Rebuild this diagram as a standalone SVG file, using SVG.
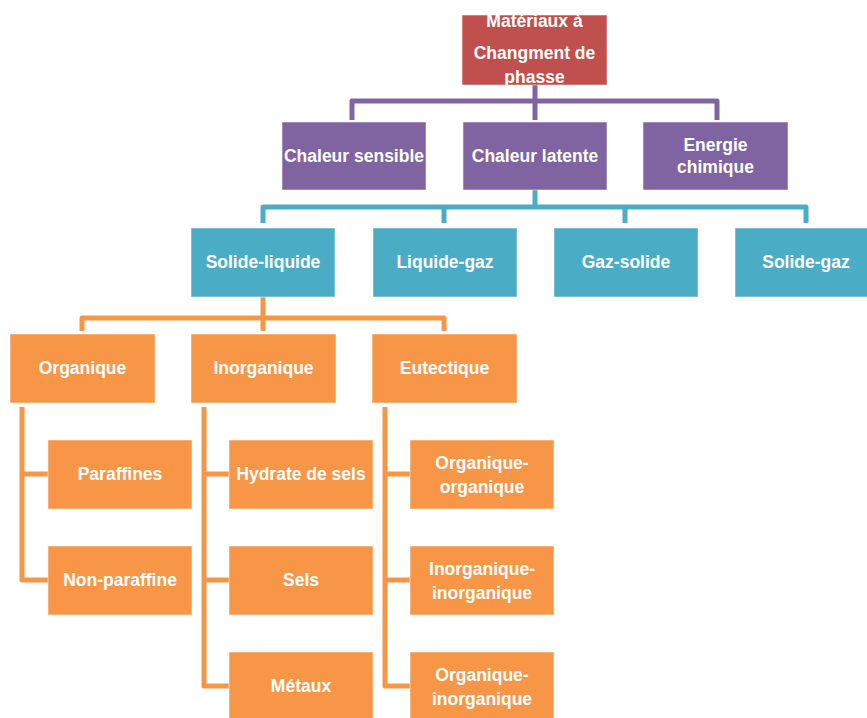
<svg xmlns="http://www.w3.org/2000/svg" width="867" height="718" viewBox="0 0 867 718">
<style>
text{font-family:"Liberation Sans",Arial,sans-serif;font-weight:bold;font-size:17.5px;fill:#fff;text-anchor:middle}
.red{fill:#C0504D}
.pur{fill:#8064A2}
.teal{fill:#4BACC6}
.org{fill:#F79646}
.box{stroke:#fff;stroke-width:1;stroke-opacity:0.5}
.c{fill:none;stroke-width:5;stroke-linejoin:round}
.cp{stroke:#8064A2}
.ct{stroke:#4BACC6}
.co{stroke:#F79646}
</style>
<defs>
<clipPath id="clipTop"><rect x="462" y="15" width="145" height="70"/></clipPath>
</defs>
<rect width="867" height="718" fill="#fff"/>
<g id="connectors">
<path class="c cp" d="M535 85V101M352 120V101H717V120M535 101V120"/>
<path class="c ct" d="M535 190V207M263 223V207H806V223M444 207V223M625 207V223"/>
<path class="c co" d="M263 297V318M82 331V318H444V331M263 318V331"/>
<path class="c co" d="M22 407V580H48M22 474H48"/>
<path class="c co" d="M204 407V686H229M204 474H229M204 580H229"/>
<path class="c co" d="M385 407V686H410M385 474H410M385 580H410"/>
</g>
<g id="n-root">
<rect class="red box" x="462" y="15" width="145" height="70"/>
<g clip-path="url(#clipTop)">
<text x="534.5" y="27">Matériaux à</text>
<text x="534.5" y="59">Changment de</text>
<text x="534.5" y="83">phasse</text>
</g>
</g>
<g id="n-sensible"><rect class="pur box" x="282" y="122" width="144" height="68"/><text x="354" y="162">Chaleur sensible</text></g>
<g id="n-latente"><rect class="pur box" x="463" y="122" width="144" height="68"/><text x="535" y="162">Chaleur latente</text></g>
<g id="n-chimique"><rect class="pur box" x="643" y="122" width="145" height="68"/><text x="715.5" y="151">Energie</text><text x="715.5" y="173">chimique</text></g>
<g id="n-sl"><rect class="teal box" x="191" y="228" width="144" height="69"/><text x="263" y="268">Solide-liquide</text></g>
<g id="n-lg"><rect class="teal box" x="373" y="228" width="144" height="69"/><text x="445" y="268">Liquide-gaz</text></g>
<g id="n-gs"><rect class="teal box" x="554" y="228" width="144" height="69"/><text x="626" y="268">Gaz-solide</text></g>
<g id="n-sg"><rect class="teal box" x="735" y="228" width="140" height="69"/><text x="806" y="268">Solide-gaz</text></g>
<g id="n-organique"><rect class="org box" x="10" y="334" width="145" height="69"/><text x="82.5" y="374">Organique</text></g>
<g id="n-inorganique"><rect class="org box" x="191" y="334" width="145" height="69"/><text x="263.5" y="374">Inorganique</text></g>
<g id="n-eutectique"><rect class="org box" x="372" y="334" width="145" height="69"/><text x="444.5" y="374">Eutectique</text></g>
<g id="n-paraffines"><rect class="org box" x="48" y="440" width="144" height="69"/><text x="120" y="480">Paraffines</text></g>
<g id="n-nonparaffine"><rect class="org box" x="48" y="546" width="144" height="69"/><text x="120" y="586">Non-paraffine</text></g>
<g id="n-hydrate"><rect class="org box" x="229" y="440" width="144" height="69"/><text x="301" y="480">Hydrate de sels</text></g>
<g id="n-sels"><rect class="org box" x="229" y="546" width="144" height="69"/><text x="301" y="586">Sels</text></g>
<g id="n-metaux"><rect class="org box" x="229" y="652" width="144" height="70"/><text x="301" y="692">Métaux</text></g>
<g id="n-oo"><rect class="org box" x="410" y="440" width="144" height="69"/><text x="482" y="469">Organique-</text><text x="482" y="493">organique</text></g>
<g id="n-ii"><rect class="org box" x="410" y="546" width="144" height="69"/><text x="482" y="575">Inorganique-</text><text x="482" y="599">inorganique</text></g>
<g id="n-oi"><rect class="org box" x="410" y="652" width="144" height="70"/><text x="482" y="681">Organique-</text><text x="482" y="705">inorganique</text></g>
</svg>
